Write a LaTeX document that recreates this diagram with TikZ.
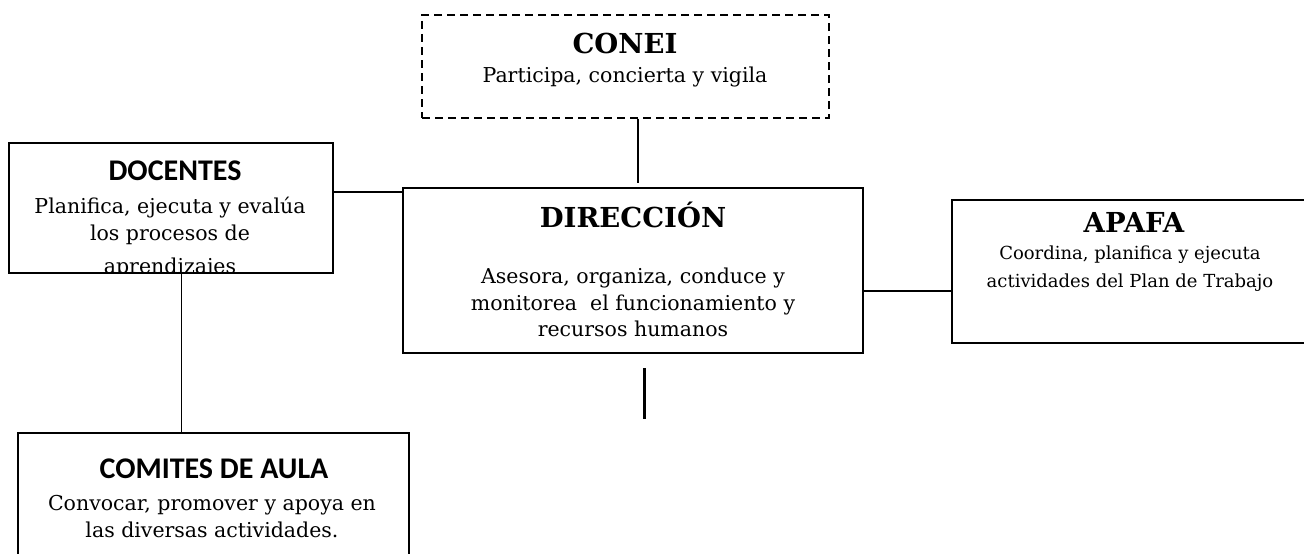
\documentclass[tikz,border=0pt]{standalone}
\usepackage{fontspec}
\setmainfont{DejaVu Serif}
\newfontfamily\calibrifont{Carlito}
\begin{document}
\begin{tikzpicture}[x=1pt,y=-1pt,
  boxstyle/.style={draw,line width=1.8pt,inner sep=0pt},
  body/.style={anchor=base,inner sep=0pt,font=\fontsize{20.5}{24}\selectfont},
  smallbody/.style={anchor=base,inner sep=0pt,font=\fontsize{18}{21}\selectfont},
  sertitle/.style={anchor=base,inner sep=0pt,font=\fontsize{27.5}{30}\selectfont\bfseries},
  santitle/.style={anchor=base,inner sep=0pt,font=\calibrifont\fontsize{30}{33}\selectfont\bfseries},
  conn/.style={line width=2pt}]
\useasboundingbox (0,0) rectangle (1304,554);
\fill[white] (0,0) rectangle (1304,554);
% boxes
\node[draw,dash pattern=on 8pt off 5pt,line width=1.4pt,inner sep=0pt,minimum width=407pt,minimum height=103pt] (conei) at (625.5,66.5) {};
\node[boxstyle,minimum width=324pt,minimum height=130pt] (docentes) at (171,208) {};
\node[boxstyle,line width=1.5pt,minimum width=460pt,minimum height=165pt] (direccion) at (633,270.5) {};
\node[boxstyle,minimum width=370pt,minimum height=143pt] (apafa) at (1137,271.5) {};
\node[boxstyle,minimum width=391pt,minimum height=130pt] (comites) at (213.5,498) {};
% texts
\node[sertitle] (t1) at (625,53) {CONEI};
\node[body] (t2) at (625,82) {Participa, concierta y vigila};
\node[santitle] (t3) at (175,180) {DOCENTES};
\node[body] (t4) at (170,213) {Planifica, ejecuta y evalúa};
\node[body] (t5) at (170,240) {los procesos de};
\begin{scope}
\clip (docentes.north west) rectangle ([yshift=1pt]docentes.south east);
\node[body] (t6) at (170,273) {aprendizajes};
\end{scope}
\node[sertitle] (t7) at (633,227) {DIRECCIÓN};
\node[body] (t8) at (633,283) {Asesora, organiza, conduce y};
\node[body] (t9) at (633,310) {monitorea\ \ el funcionamiento y};
\node[body] (t10) at (633,336) {recursos humanos};
\node[sertitle] (t11) at (1134,232) {APAFA};
\node[smallbody] (t12) at (1130,259) {Coordina, planifica y ejecuta};
\node[smallbody] (t13) at (1130,287) {actividades del Plan de Trabajo};
\node[santitle] (t14) at (214,478) {COMITES DE AULA};
\node[body] (t15) at (212,510) {Convocar, promover y apoya en};
\node[body] (t16) at (212,537) {las diversas actividades.};
% connectors
\coordinate (ca) at (638,183);
\draw[conn] (conei.south -| ca) -- (ca);
\draw[conn] ([yshift=16pt]docentes.east) -- ([yshift=16pt]docentes.east -| direccion.west);
\draw[conn] ([yshift=-20pt]direccion.east) -- ([yshift=-20pt]direccion.east -| apafa.west);
\coordinate (s1) at (644,368);
\coordinate (s2) at (644,419);
\draw[line width=3pt] (s1) -- (s2);
\coordinate (cx) at (181,0);
\draw[line width=1pt] (docentes.south -| cx) -- (comites.north -| cx);
\end{tikzpicture}
\end{document}
